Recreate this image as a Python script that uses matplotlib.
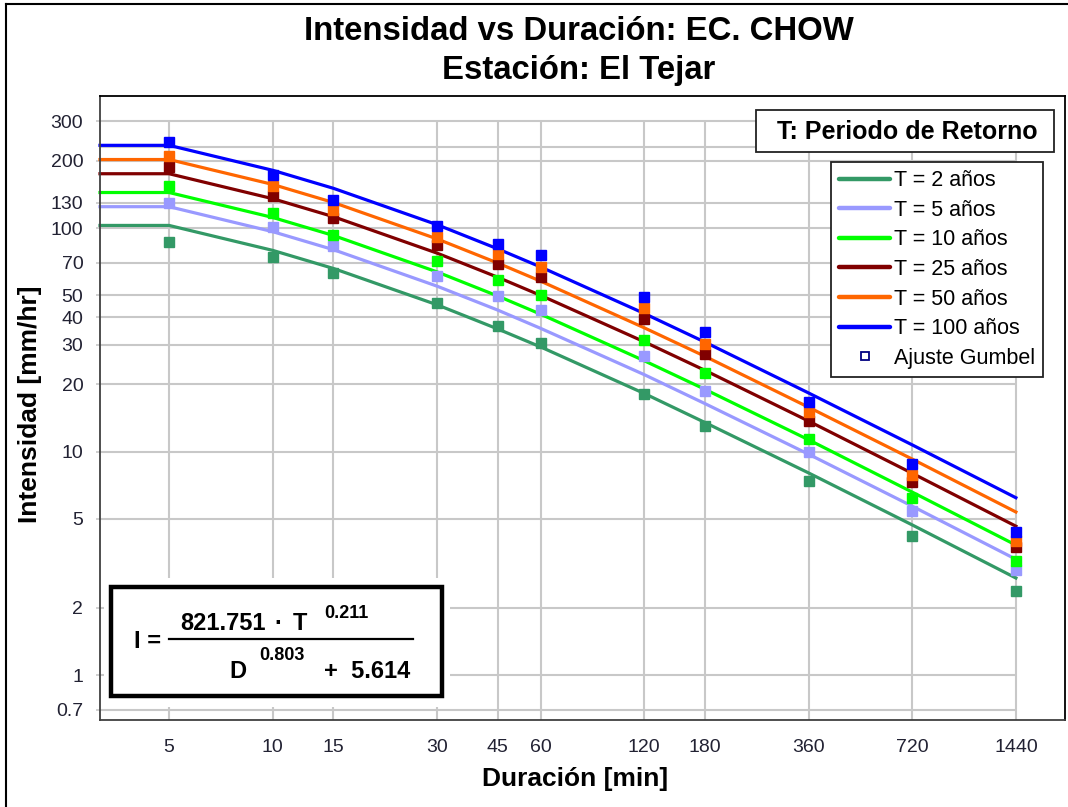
import matplotlib.pyplot as plt
from matplotlib.lines import Line2D
from matplotlib.patches import Rectangle

plt.rcParams['font.family'] = ['Liberation Sans', 'DejaVu Sans']

W, H = 1068, 807

durations = [5, 10, 15, 30, 45, 60, 120, 180, 360, 720, 1440]
labels = ['T = 2 años', 'T = 5 años', 'T = 10 años', 'T = 25 años', 'T = 50 años', 'T = 100 años']
colors = ['#339966', '#9999ff', '#00ff00', '#800000', '#ff6600', '#0000ff']

# curvas ec. Chow (mm/hr)
i_t2 = [102.8, 79.5, 66.0, 45.4, 35.4, 29.4, 18.2, 13.5, 8.03, 4.70, 2.72]
i_t5 = [124.7, 96.4, 80.1, 55.0, 43.0, 35.6, 22.1, 16.4, 9.74, 5.70, 3.30]
i_t10 = [144.3, 111.6, 92.7, 63.7, 49.7, 41.2, 25.5, 19.0, 11.3, 6.59, 3.82]
i_t25 = [175.1, 135.4, 112.5, 77.3, 60.3, 50.0, 31.0, 23.1, 13.7, 8.00, 4.64]
i_t50 = [202.7, 156.8, 130.2, 89.5, 69.8, 57.9, 35.8, 26.7, 15.8, 9.26, 5.37]
i_t100 = [234.6, 181.4, 150.7, 103.6, 80.8, 67.0, 41.5, 30.9, 18.3, 10.72, 6.22]

# ajuste Gumbel (mm/hr)
g_t2 = [86.3, 74.0, 63.3, 46.0, 36.5, 30.6, 18.2, 13.0, 7.4, 4.2, 2.38]
g_t5 = [129, 100.8, 82.9, 61.2, 49.9, 43.0, 26.9, 18.7, 10.0, 5.4, 2.95]
g_t10 = [154, 116.3, 93.6, 71.0, 58.5, 50.1, 31.7, 22.4, 11.4, 6.2, 3.23]
g_t25 = [187, 139.7, 111, 83.7, 69.3, 60.2, 39.3, 27.2, 13.7, 7.3, 3.73]
g_t50 = [210, 153.6, 121, 91.1, 76.7, 66.9, 44.0, 30.4, 15.0, 7.9, 3.97]
g_t100 = [242, 172, 134, 101.8, 84.8, 76.0, 49.2, 34.2, 16.7, 8.8, 4.37]

curves = [i_t2, i_t5, i_t10, i_t25, i_t50, i_t100]
gumbel = [g_t2, g_t5, g_t10, g_t25, g_t50, g_t100]

yticks = [0.7, 1, 2, 5, 10, 20, 30, 40, 50, 70, 100, 130, 200, 300]
ygrid = yticks + [230]
xlim = (3.15, 2000)
ylim = (0.63, 390)


def fx(px):
    return px / W


def fy(py):
    return 1 - py / H


fig = plt.figure(figsize=(W / 100, H / 100), dpi=100)
ax = fig.add_axes([fx(100), fy(720), (1065 - 100) / W, (720 - 96) / H])
ax.set_xscale('log')
ax.set_yscale('log')
ax.set_xlim(xlim)
ax.set_ylim(ylim)

grid_c = '#c8c8c8'
ax.hlines(ygrid, xlim[0], durations[-1], color=grid_c, lw=1.5, zorder=0.5)
ax.vlines(durations, ylim[0], 300, color=grid_c, lw=1.5, zorder=0.5)

for vals, c in zip(curves, colors):
    ax.plot([xlim[0]] + durations, [vals[0]] + vals, color=c, lw=2.3, zorder=2, clip_on=False)
for vals, c in zip(gumbel, colors):
    ax.plot(durations, vals, 's', color=c, ms=7, mec=c, zorder=3)

ax.set_xticks(durations)
ax.set_xticklabels([str(d) for d in durations])
ax.set_yticks(yticks)
ax.set_yticklabels([f'{v:g}' for v in yticks])
ax.minorticks_off()
ax.tick_params(axis='x', length=0, pad=14, labelsize=14, labelcolor='#222233')
ax.tick_params(axis='y', length=3, width=1.2, color=grid_c, pad=9, labelsize=14, labelcolor='#222233')

for s in ['left', 'bottom']:
    ax.spines[s].set_color('#404040')
    ax.spines[s].set_linewidth(1.3)
for s in ['top', 'right']:
    ax.spines[s].set_color('black')
    ax.spines[s].set_linewidth(1.3)

# leyenda
handles = [Line2D([], [], color=c, lw=3.2, solid_capstyle='round') for c in colors]
handles.append(Line2D([], [], ls='none', marker='s', ms=6, mfc='white', mec='#000080', mew=1.3))
leg = ax.legend(handles, labels + ['Ajuste Gumbel'], loc='upper right',
                bbox_to_anchor=(fx(1043), fy(162)), bbox_transform=fig.transFigure,
                fancybox=False, framealpha=1, edgecolor='#222222', fontsize=15.5,
                handlelength=2.4, handletextpad=0.15, labelspacing=0.4,
                borderpad=0.38, borderaxespad=0)
leg.get_frame().set_linewidth(1.3)
leg.set_zorder(5)

fig.add_artist(Rectangle((fx(756), fy(152)), (1054 - 756) / W, (152 - 110) / H,
                         transform=fig.transFigure, fc='white', ec='#222222', lw=1.3, zorder=4))
fig.text(fx(907), fy(132), 'T: Periodo de Retorno', ha='center', va='center',
         fontsize=18, fontweight='bold', zorder=6)

# titulos
fig.text(fx(579), fy(31), 'Intensidad vs Duración: EC. CHOW', ha='center', va='center',
         fontsize=23.7, fontweight='bold')
fig.text(fx(579), fy(70), 'Estación: El Tejar', ha='center', va='center',
         fontsize=23.7, fontweight='bold')
fig.text(fx(575), fy(779), 'Duración [min]', ha='center', va='center',
         fontsize=19, fontweight='bold')
fig.text(fx(30), fy(404), 'Intensidad [mm/hr]', ha='center', va='center',
         rotation=90, fontsize=19, fontweight='bold')

# cuadro de la ecuacion
fig.add_artist(Rectangle((fx(104), fy(707)), (450 - 104) / W, (707 - 578) / H,
                         transform=fig.transFigure, fc='white', ec='none', zorder=4))
fig.add_artist(Rectangle((fx(111), fy(696)), (442 - 111) / W, (696 - 587) / H,
                         transform=fig.transFigure, fc='white', ec='black', lw=3.2, zorder=4))
fig.add_artist(Line2D([fx(169), fx(413)], [fy(639), fy(639)], color='black', lw=1.6, zorder=5))
eq = dict(ha='center', va='center', fontweight='bold', zorder=6)
fig.text(fx(148), fy(642), 'I =', fontsize=17, **eq)
fig.text(fx(223), fy(623), '821.751', fontsize=17, **eq)
fig.text(fx(278), fy(623), '·', fontsize=17, **eq)
fig.text(fx(300), fy(623), 'T', fontsize=17, **eq)
fig.text(fx(346), fy(613), '0.211', fontsize=13, **eq)
fig.text(fx(238), fy(672), 'D', fontsize=17, **eq)
fig.text(fx(282), fy(655), '0.803', fontsize=13, **eq)
fig.text(fx(367), fy(672), '+  5.614', fontsize=17, **eq)

# marco exterior
fig.add_artist(Line2D([fx(6), 1], [fy(4), fy(4)], color='black', lw=1.5))
fig.add_artist(Line2D([fx(6), fx(6)], [0, fy(4)], color='black', lw=1.5))

fig.savefig('out.png', dpi=100)
